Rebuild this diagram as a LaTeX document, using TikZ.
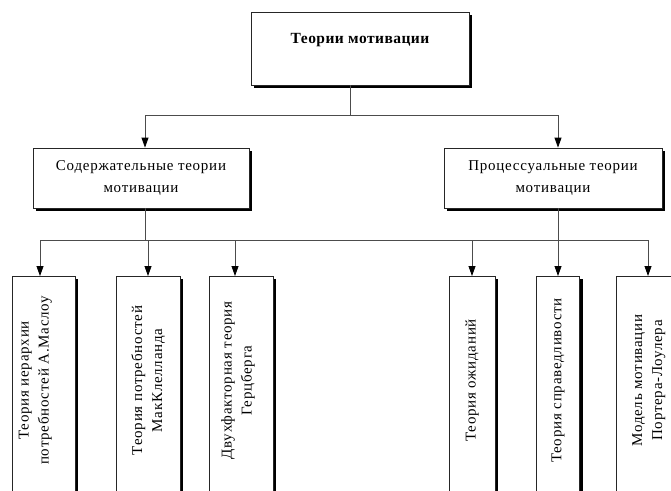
\documentclass[tikz,border=0pt]{standalone}
\usepackage{fontspec}
\usepackage{graphicx}
\usetikzlibrary{arrows.meta,shadows}
\newfontfamily\titlefont[LetterSpace=3]{Liberation Serif}
\newfontfamily\boxfont[LetterSpace=5]{Liberation Serif}

\tikzset{
  box/.style={draw=black!85, line width=0.8pt, fill=white, shape=rectangle,
    drop shadow={opacity=1, fill=black, shadow xshift=3pt, shadow yshift=-3pt}},
  group/.style={box, minimum height=60pt, align=center,
    font=\boxfont\fontsize{15}{22}\selectfont},
  kid/.style={box, anchor=north, minimum height=250pt, inner sep=0pt,
    font=\boxfont\fontsize{15}{20}\selectfont},
  link/.style={draw=black!70, line width=0.8pt},
  arr/.style={link, -{Triangle[length=10pt,width=7pt,color=black]}}
}

\begin{document}
\begin{tikzpicture}[x=1pt,y=-1pt]
\useasboundingbox (0,0) rectangle (671,490);

% top
\node[box, minimum width=218pt, minimum height=73pt, text height=11pt, text depth=21pt,
  font=\titlefont\bfseries\fontsize{15.5}{19}\selectfont] (teorii) at (360,48.5) {Теории мотивации};

% two groups
\node[group, minimum width=216pt] (soderzh) at (141,178) {Содержательные теории\\мотивации};
\node[group, minimum width=218pt] (process) at (553,178) {Процессуальные теории\\мотивации};

% theories
\node[kid, minimum width=63pt] (maslou) at (43.5,276)
  {\rotatebox{90}{\hspace*{42pt}\begin{tabular}{@{}c@{}}Теория иерархии\\потребностей А.Маслоу\end{tabular}}\hspace*{18pt}};
\node[kid, minimum width=64pt] (klelland) at (148,276)
  {\rotatebox{90}{\hspace*{42pt}\begin{tabular}{@{}c@{}}Теория потребностей\\МакКлелланда\end{tabular}}};
\node[kid, minimum width=64pt] (gerc) at (241,276)
  {\rotatebox{90}{\hspace*{42pt}\begin{tabular}{@{}c@{}}Двухфакторная теория\\Герцберга\end{tabular}}\hspace*{7pt}};
\node[kid, minimum width=46pt] (ozhid) at (472,276)
  {\rotatebox{90}{\hspace*{42pt}Теория ожиданий}};
\node[kid, minimum width=43pt] (spravedl) at (558,276)
  {\rotatebox{90}{\hspace*{42pt}Теория справедливости}};
\node[kid, minimum width=64pt] (porter) at (648,276)
  {\rotatebox{90}{\hspace*{42pt}\begin{tabular}{@{}c@{}}Модель мотивации\\Портера-Лоулера\end{tabular}}};

% connectors
\draw[link] ([xshift=-10pt]teorii.south) -- ++(0,30) coordinate (bus1);
\draw[arr] (bus1) -| ([xshift=4pt]soderzh.north);
\draw[arr] (bus1) -| ([xshift=5pt]process.north);

\draw[link] ([xshift=4pt]soderzh.south) -- ++(0,32) coordinate (bus2);
\draw[link] ([xshift=5pt]process.south) -- ++(0,32) coordinate (bus3);
\draw[link] (bus2) -- (bus3);
\draw[arr] (bus2) -| ([xshift=-3.5pt]maslou.north);
\draw[arr] (bus2) -| (klelland.north);
\draw[arr] (bus2) -| ([xshift=-6pt]gerc.north);
\draw[arr] (bus3) -| (ozhid.north);
\draw[arr] (bus3) -- (spravedl.north);
\draw[arr] (bus3) -| (porter.north);
\end{tikzpicture}
\end{document}
